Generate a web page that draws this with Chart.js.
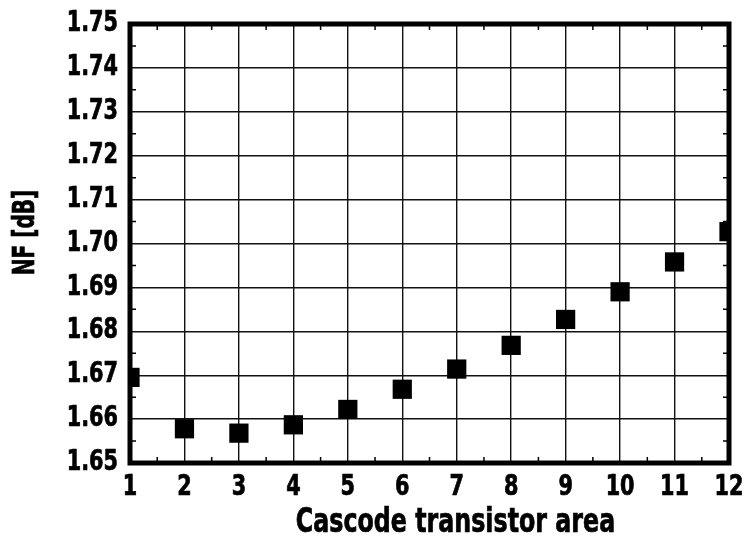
<!DOCTYPE html>
<html>
<head>
<meta charset="utf-8">
<script src="https://cdn.jsdelivr.net/npm/chart.js@4.4.1/dist/chart.umd.min.js"></script>
<style>
  html,body{margin:0;padding:0;background:#fff;}
  #wrap{width:745px;height:539px;position:relative;}
</style>
</head>
<body>
<div id="wrap"><canvas id="nfChart" width="745" height="539"></canvas></div>
<script>
// ====== DATA ======
const AREA = [1,2,3,4,5,6,7,8,9,10,11,12];
const NF_DB = [1.6695,1.6578,1.6568,1.6587,1.6622,1.6668,1.6714,1.6768,1.6827,1.6890,1.6958,1.7027];
const X_LABEL = 'Cascode transistor area';
const Y_LABEL = 'NF [dB]';

const FONT = "'DejaVu Sans Condensed','Liberation Sans Narrow',sans-serif";

// squeeze text horizontally to get a tall narrow look
function narrowText(ctx, txt, x, y, size, sx, align, rot){
  ctx.save();
  ctx.translate(x,y);
  if(rot) ctx.rotate(rot);
  ctx.scale(sx,1);
  ctx.font = 'bold '+size+'px '+FONT;
  ctx.fillStyle='#000';
  ctx.strokeStyle='#000';
  ctx.lineWidth=0.7;
  ctx.textAlign=align;
  ctx.textBaseline='middle';
  ctx.fillText(txt,0,0);
  ctx.strokeText(txt,0,0);
  ctx.restore();
}

// tick labels + axis titles
const labelPlugin = {
  id:'labels',
  afterDraw(chart){
    const {ctx, chartArea:a, scales:{x,y}} = chart;
    y.ticks.forEach(t=>{
      narrowText(ctx, Number(t.value).toFixed(2), a.left-12, y.getPixelForValue(t.value), 27.5, 0.84, 'right');
    });
    x.ticks.forEach(t=>{
      narrowText(ctx, String(t.value), x.getPixelForValue(t.value), a.bottom+25, 27.5, 0.84, 'center');
    });
    narrowText(ctx, X_LABEL, (a.left+a.right)/2+26, a.bottom+60, 33, 0.8, 'center');
    narrowText(ctx, Y_LABEL, 26, (a.top+a.bottom)/2-11, 31, 0.72, 'center', -Math.PI/2);
  }
};

// thick frame + small inward ticks at half steps
const framePlugin = {
  id:'frame',
  afterDraw(chart){
    const {ctx, chartArea:a, scales:{x,y}} = chart;
    ctx.save();
    ctx.strokeStyle='#000';
    ctx.lineWidth=1.5;
    ctx.beginPath();
    for(let v=1.5; v<12; v+=1){
      const px=x.getPixelForValue(v);
      ctx.moveTo(px,a.bottom); ctx.lineTo(px,a.bottom-6);
      ctx.moveTo(px,a.top); ctx.lineTo(px,a.top+6);
    }
    for(let i=0;i<10;i++){
      const py=y.getPixelForValue(1.655+i*0.01);
      ctx.moveTo(a.left,py); ctx.lineTo(a.left+6,py);
      ctx.moveTo(a.right,py); ctx.lineTo(a.right-6,py);
    }
    ctx.stroke();
    ctx.lineWidth=5;
    ctx.strokeRect(a.left,a.top,a.right-a.left,a.bottom-a.top);
    ctx.restore();
  }
};

const points = AREA.map((a,i)=>({x:a,y:NF_DB[i]}));

new Chart(document.getElementById('nfChart').getContext('2d'),{
  type:'scatter',
  data:{datasets:[{
    data:points,
    pointStyle:'rect',
    pointRadius:13.6,
    pointHoverRadius:13.6,
    backgroundColor:'#000',
    borderColor:'#000',
    borderWidth:0
  }]},
  options:{
    responsive:false,
    animation:false,
    layout:{padding:{top:24,right:16,left:0,bottom:0}},
    plugins:{legend:{display:false},tooltip:{enabled:false}},
    scales:{
      x:{
        type:'linear',min:1,max:12,
        afterFit(s){ s.height=76; s.paddingLeft=0; s.paddingRight=0; },
        grid:{color:'#111',lineWidth:1.4,drawTicks:false},
        border:{display:false},
        ticks:{stepSize:1,display:false}
      },
      y:{
        type:'linear',min:1.65,max:1.75,
        afterFit(s){ s.width=130; s.paddingTop=0; s.paddingBottom=0; },
        grid:{color:'#111',lineWidth:1.4,drawTicks:false},
        border:{display:false},
        ticks:{stepSize:0.01,display:false}
      }
    }
  },
  plugins:[framePlugin,labelPlugin]
});
</script>
</body>
</html>
